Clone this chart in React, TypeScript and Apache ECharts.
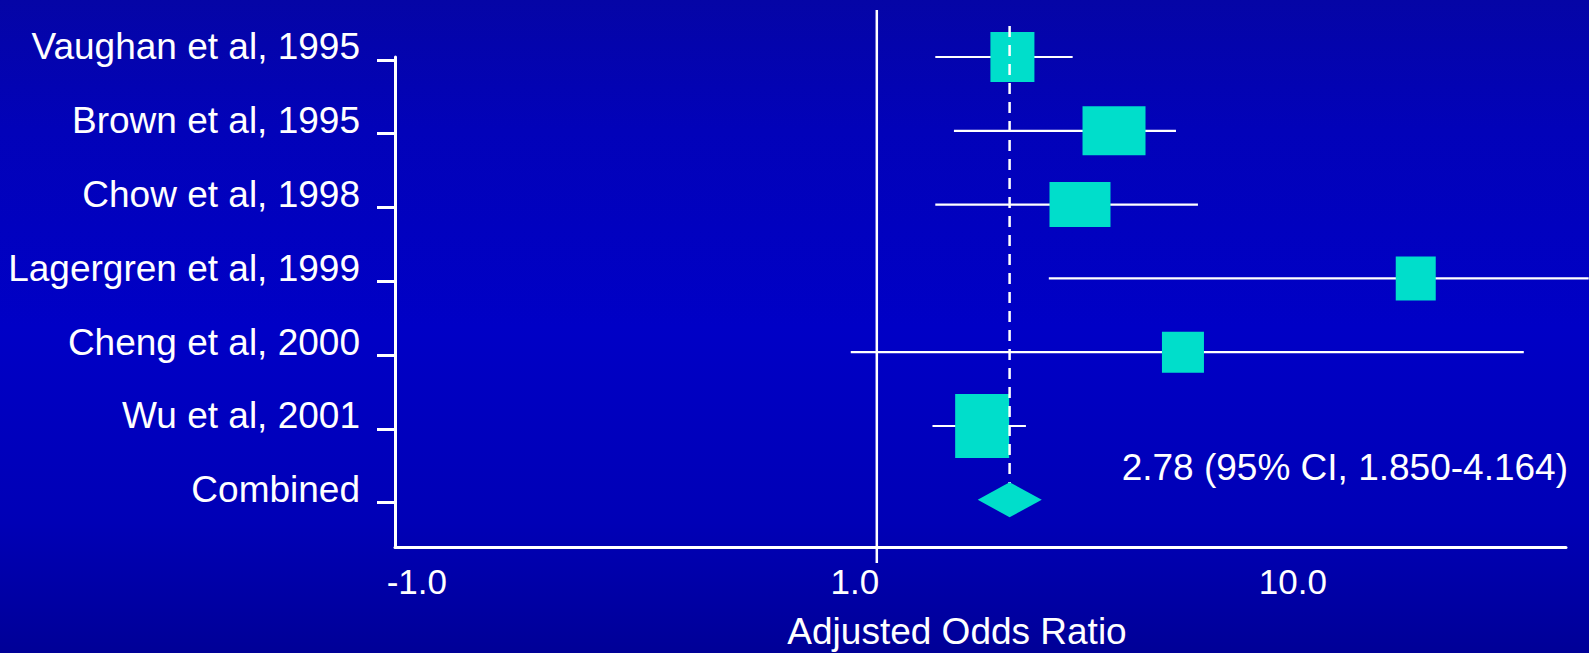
import React, { useEffect, useRef } from 'react';
import * as echarts from 'echarts';

// ---- data ----
const studies = [
  'Vaughan et al, 1995',
  'Brown et al, 1995',
  'Chow et al, 1998',
  'Lagergren et al, 1999',
  'Cheng et al, 2000',
  'Wu et al, 2001',
];
const combinedLabel = 'Combined';
const oddsRatio = [2.04, 3.48, 2.91, 17.0, 5.0, 1.74];
const ciLow = [1.36, 1.5, 1.36, 2.47, 0.872, 1.34];
const ciHigh = [2.8, 4.82, 5.41, 42.2, 30.0, 2.19];
// study weight shown as box size (px)
const boxWidth = [44, 63, 61, 40, 42, 54];
const boxHeight = [50, 49, 45, 44, 41, 64];
const combinedOR = 2.01;
const combinedLow = 1.7;
const combinedHigh = 2.38;
const xTickValues = [0.1, 1, 10];
const xTickLabels = ['-1.0', '1.0', '10.0'];
const annotation = '2.78 (95% CI, 1.850-4.164)';
const xAxisName = 'Adjusted Odds Ratio';

const categories = [...studies, combinedLabel];
const FONT = '"Liberation Sans", Arial, sans-serif';
const MARK = '#00DECB';
// the row ticks sit slightly below the row's marks in the reference
const TICK_SHIFT = 0.04;

export default function App() {
  const ref = useRef<HTMLDivElement>(null);

  useEffect(() => {
    document.body.style.margin = '0';
    const chart = echarts.init(ref.current!, null, { renderer: 'svg' });
    const lg = (v: number) => Math.log10(v);
    const combinedIdx = categories.length - 1;
    const rowTicks = categories.map((_, i) => i + TICK_SHIFT);

    const option: any = {
      animation: false,
      backgroundColor: {
        type: 'linear',
        x: 0,
        y: 0,
        x2: 0,
        y2: 1,
        colorStops: [
          { offset: 0, color: '#0505A6' },
          { offset: 0.2, color: '#0202B9' },
          { offset: 0.5, color: '#0000C6' },
          { offset: 0.8, color: '#0000B6' },
          { offset: 1, color: '#000097' },
        ],
      },
      grid: {
        left: 395,
        right: 23,
        top: 57,
        bottom: 106,
        containLabel: false,
        outerBoundsMode: 'none',
      },
      xAxis: {
        type: 'value',
        min: -1.1,
        max: 1.5735,
        axisLine: { show: true, onZero: false, lineStyle: { color: '#ffffff', width: 3 } },
        axisTick: { show: false },
        splitLine: { show: false },
        axisLabel: {
          customValues: xTickValues.map(lg),
          formatter: (v: number) => {
            const i = xTickValues.findIndex((t) => Math.abs(lg(t) - v) < 1e-6);
            return i >= 0 ? xTickLabels[i] : '';
          },
          color: '#ffffff',
          fontSize: 35,
          fontFamily: FONT,
          margin: 17,
          padding: [0, 44, 0, 0],
        },
        name: xAxisName,
        nameLocation: 'middle',
        nameGap: 66,
        nameTextStyle: {
          color: '#ffffff',
          fontSize: 37,
          fontFamily: FONT,
          padding: [0, 47, 0, 0],
        },
      },
      yAxis: {
        type: 'value',
        inverse: true,
        min: 0,
        max: 6.64,
        axisLine: { show: true, onZero: false, lineStyle: { color: '#ffffff', width: 3 } },
        axisTick: {
          show: true,
          inside: false,
          length: 18,
          customValues: rowTicks,
          lineStyle: { color: '#ffffff', width: 3 },
        },
        splitLine: { show: false },
        axisLabel: {
          customValues: rowTicks,
          formatter: (v: number) => categories[Math.round(v)] ?? '',
          color: '#ffffff',
          fontSize: 37,
          fontFamily: FONT,
          margin: 35,
          verticalAlign: 'bottom',
          lineHeight: 26,
        },
      },
      graphic: [
        {
          type: 'text',
          right: 21,
          top: 449,
          z: 10,
          style: {
            text: annotation,
            fill: '#ffffff',
            font: `37px ${FONT}`,
          },
        },
      ],
      series: [
        // reference line at OR = 1
        {
          type: 'custom',
          clip: false,
          z: 1,
          data: [[lg(1), -0.637, 6.856]],
          renderItem: (params: any, api: any) => {
            const a = api.coord([api.value(0), api.value(1)]);
            const b = api.coord([api.value(0), api.value(2)]);
            return {
              type: 'line',
              shape: { x1: a[0], y1: a[1], x2: b[0], y2: b[1] },
              style: { stroke: '#ffffff', lineWidth: 2.5 },
            };
          },
        },
        // confidence intervals
        {
          type: 'custom',
          clip: false,
          z: 2,
          data: studies.map((_, i) => [lg(ciLow[i]), lg(ciHigh[i]), i]),
          renderItem: (params: any, api: any) => {
            const a = api.coord([api.value(0), api.value(2)]);
            const b = api.coord([api.value(1), api.value(2)]);
            return {
              type: 'line',
              shape: { x1: a[0], y1: a[1], x2: b[0], y2: b[1] },
              style: { stroke: '#ffffff', lineWidth: 2.2 },
            };
          },
        },
        // study boxes
        {
          type: 'custom',
          clip: false,
          z: 3,
          data: studies.map((_, i) => [lg(oddsRatio[i]), i, boxWidth[i], boxHeight[i]]),
          renderItem: (params: any, api: any) => {
            const c = api.coord([api.value(0), api.value(1)]);
            const w = api.value(2);
            const h = api.value(3);
            return {
              type: 'rect',
              shape: { x: c[0] - w / 2, y: c[1] - h / 2, width: w, height: h },
              style: { fill: MARK },
            };
          },
        },
        // dashed line at combined estimate
        {
          type: 'custom',
          clip: false,
          z: 4,
          data: [[lg(combinedOR), -0.42, combinedIdx]],
          renderItem: (params: any, api: any) => {
            const a = api.coord([api.value(0), api.value(1)]);
            const b = api.coord([api.value(0), api.value(2)]);
            return {
              type: 'line',
              shape: { x1: a[0], y1: a[1], x2: b[0], y2: b[1] },
              style: { stroke: '#ffffff', lineWidth: 2.5, lineDash: [11, 8] },
            };
          },
        },
        // combined diamond
        {
          type: 'custom',
          clip: false,
          z: 5,
          data: [[lg(combinedLow), lg(combinedOR), lg(combinedHigh), combinedIdx]],
          renderItem: (params: any, api: any) => {
            const l = api.coord([api.value(0), api.value(3)]);
            const m = api.coord([api.value(1), api.value(3)]);
            const r = api.coord([api.value(2), api.value(3)]);
            const hh = 17.5;
            return {
              type: 'polygon',
              shape: {
                points: [
                  [l[0], l[1]],
                  [m[0], m[1] - hh],
                  [r[0], r[1]],
                  [m[0], m[1] + hh],
                ],
              },
              style: { fill: MARK },
            };
          },
        },
      ],
    };

    chart.setOption(option);
    return () => chart.dispose();
  }, []);

  return (
    <div
      ref={ref}
      style={{ position: 'absolute', left: 0, top: 0, width: 1589, height: 653 }}
    />
  );
}
